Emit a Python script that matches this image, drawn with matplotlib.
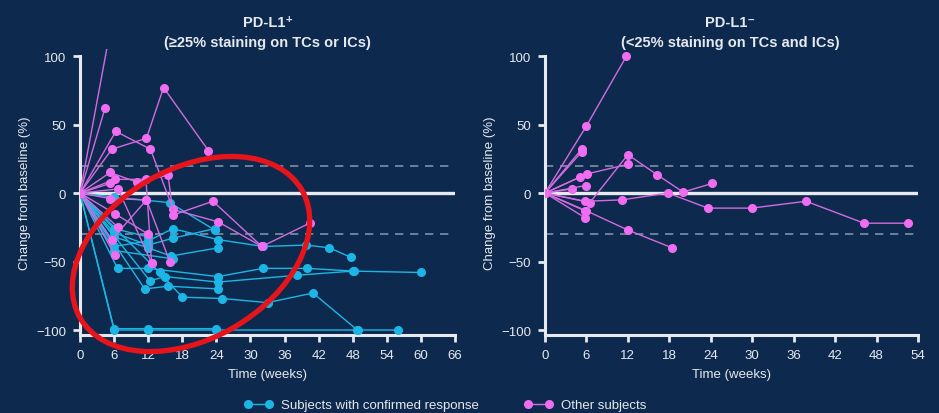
import matplotlib.pyplot as plt
from matplotlib.lines import Line2D
from matplotlib.patches import Ellipse
from matplotlib.transforms import IdentityTransform

plt.rcParams['font.family'] = ['Liberation Sans', 'DejaVu Sans']

BG = '#0d2a4e'
FG = '#e6e9ee'
CYAN = '#1cb6e6'
MAGENTA = '#d36be0'
PINK = '#f06cf0'
DASH = '#7f8ea6'

# PD-L1+ panel: confirmed responders (weeks, % change)
pos_resp_weeks = [
    [0, 6, 12, 24, 49, 56],
    [0, 6, 12, 24],
    [0, 6.6, 12, 24.3, 32.2, 40, 48.3, 60],
    [0, 12.3, 15, 24.3, 38.2, 48],
    [0, 11.4, 15.5, 24.3],
    [0, 14, 18, 25, 33, 41, 48.8],
    [0, 6, 12, 16.3, 24.3, 32.2, 39.8, 43.9, 47.7],
    [0, 6, 12, 16.3, 23.7],
    [0, 6, 12, 16, 24.3],
    [0, 6, 16.4],
    [0, 6, 12],
    [0, 6, 15.8, 23.7],
]
pos_resp_vals = [
    [0, -100, -100, -100, -100, -100],
    [0, -99, -99, -99],
    [0, -55, -55, -61, -55, -55, -57, -58],
    [0, -64, -61, -65, -60, -57],
    [0, -70, -68, -70],
    [0, -58, -76, -77, -80, -73, -100],
    [0, -39, -35, -26, -34, -39, -38, -40, -47],
    [0, -29, -38, -33, -26],
    [0, -32, -40, -46, -40],
    [0, -42, -48],
    [0, -26, -32],
    [0, -3, -7, -27],
]

# PD-L1+ panel: other subjects
pos_other_weeks = [
    [0, 6],
    [0, 4.4],
    [0, 6.3, 12.4, 16.4, 24.3, 32],
    [0, 5.6, 11.7, 14.7, 22.6],
    [0, 5.3, 10, 15.5, 16.4, 23.4, 32, 40.4],
    [0, 6.1, 11.6, 12.6],
    [0, 5.6, 11.7, 15.8],
    [0, 6.7, 12.6],
    [0, 6.1],
    [0, 6.7],
    [0, 6.1, 12],
    [0, 5.3],
    [0, 5.3, 11.7],
]
pos_other_vals = [
    [0, 134],
    [0, 62],
    [0, 45, 32, -12, -21, -39],
    [0, 32, 40, 77, 31],
    [0, 15, 8, 13, -16, -6, -39, -22],
    [0, 10, 10, -51],
    [0, -34, -5, -50],
    [0, 3, -51],
    [0, -45],
    [0, -25],
    [0, -15, -30],
    [0, 7],
    [0, -4, -5],
]

# PD-L1- panel: other subjects
neg_other_weeks = [
    [0, 6, 11.8],
    [0, 5.3],
    [0, 5.3],
    [0, 6.1, 12],
    [0, 6.5, 12, 16.2, 20, 24.2],
    [0, 5.8, 11.1, 17.8, 23.6, 29.9, 37.8, 46.2, 52.6],
    [0, 6, 12, 18.4],
    [0, 5.8],
    [0, 3.9],
    [0, 5.9],
    [0, 5],
    [0, 5.8],
]
neg_other_vals = [
    [0, 49, 100],
    [0, 32],
    [0, 30],
    [0, 14, 21],
    [0, -7, 28, 13.5, 0.7, 7],
    [0, -6, -5, 0, -11, -11, -6, -22, -22],
    [0, -13, -27, -40],
    [0, -18],
    [0, 3],
    [0, 5.5],
    [0, 11.5],
    [0, -13],
]

y_ticks = [-100, -50, 0, 50, 100]


def style_axes(ax, xmax):
    ax.set_facecolor(BG)
    ax.set_xlim(0, xmax)
    ax.set_ylim(-104, 105)
    ax.set_xticks(range(0, xmax + 1, 6))
    ax.set_yticks(y_ticks)
    ax.spines['top'].set_visible(False)
    ax.spines['right'].set_visible(False)
    for s in ('left', 'bottom'):
        ax.spines[s].set_color(FG)
        ax.spines[s].set_linewidth(2.2)
    ax.spines['left'].set_bounds(-104, 100)
    ax.tick_params(colors=FG, width=2, length=5, labelsize=9.5, pad=5)
    ax.axhline(0, color=FG, lw=2.4, zorder=1)
    ax.axhline(20, color=DASH, lw=1.2, ls=(0, (5, 4)), zorder=1)
    ax.axhline(-30, color=DASH, lw=1.2, ls=(0, (5, 4)), zorder=1)
    ax.set_xlabel('Time (weeks)', color=FG, fontsize=9.5, labelpad=5)
    ax.set_ylabel('Change from baseline (%)', color=FG, fontsize=9.5, labelpad=4)


def draw(ax, weeks, vals, line_c, mark_c):
    for w, v in zip(weeks, vals):
        ax.plot(w, v, color=line_c, lw=1.0, marker='o', ms=5.5,
                mfc=mark_c, mec=mark_c, zorder=3)


fig = plt.figure(figsize=(9.39, 4.14), dpi=100)
fig.patch.set_facecolor(BG)

ax1 = fig.add_axes([0.0852, 0.1872, 0.3994, 0.6915])
ax2 = fig.add_axes([0.5804, 0.1872, 0.3972, 0.6915])
style_axes(ax1, 66)
style_axes(ax2, 54)

draw(ax1, pos_resp_weeks, pos_resp_vals, CYAN, CYAN)
draw(ax1, pos_other_weeks, pos_other_vals, MAGENTA, PINK)
draw(ax2, neg_other_weeks, neg_other_vals, MAGENTA, PINK)

fig.text(0.285, 0.945, 'PD-L1⁺', color=FG, fontsize=10.5, fontweight='bold',
         ha='center', va='center')
fig.text(0.285, 0.897, '(≥25% staining on TCs or ICs)', color=FG, fontsize=10.5,
         fontweight='bold', ha='center', va='center')
fig.text(0.778, 0.945, 'PD-L1⁻', color=FG, fontsize=10.5, fontweight='bold',
         ha='center', va='center')
fig.text(0.778, 0.897, '(<25% staining on TCs and ICs)', color=FG, fontsize=10.5,
         fontweight='bold', ha='center', va='center')

# red highlight ellipse (pixel coordinates)
fig.patches.append(Ellipse((191, 159), 256, 170, angle=30, fill=False,
                           ec='#e8141c', lw=3.8, transform=IdentityTransform(),
                           figure=fig, zorder=10))

handles = [
    Line2D([], [], color=CYAN, lw=1.0, marker='o', ms=5.5, mfc=CYAN, mec=CYAN),
    Line2D([], [], color=MAGENTA, lw=1.0, marker='o', ms=5.5, mfc=PINK, mec=PINK),
]
leg = fig.legend(handles, ['Subjects with confirmed response', 'Other subjects'],
                 loc='lower center', bbox_to_anchor=(0.474, -0.025), ncol=2,
                 frameon=False, fontsize=9.5, numpoints=2, handlelength=2.2,
                 columnspacing=3.4, handletextpad=0.6)
for t in leg.get_texts():
    t.set_color(FG)

fig.savefig('out.png', dpi=100, facecolor=BG)
